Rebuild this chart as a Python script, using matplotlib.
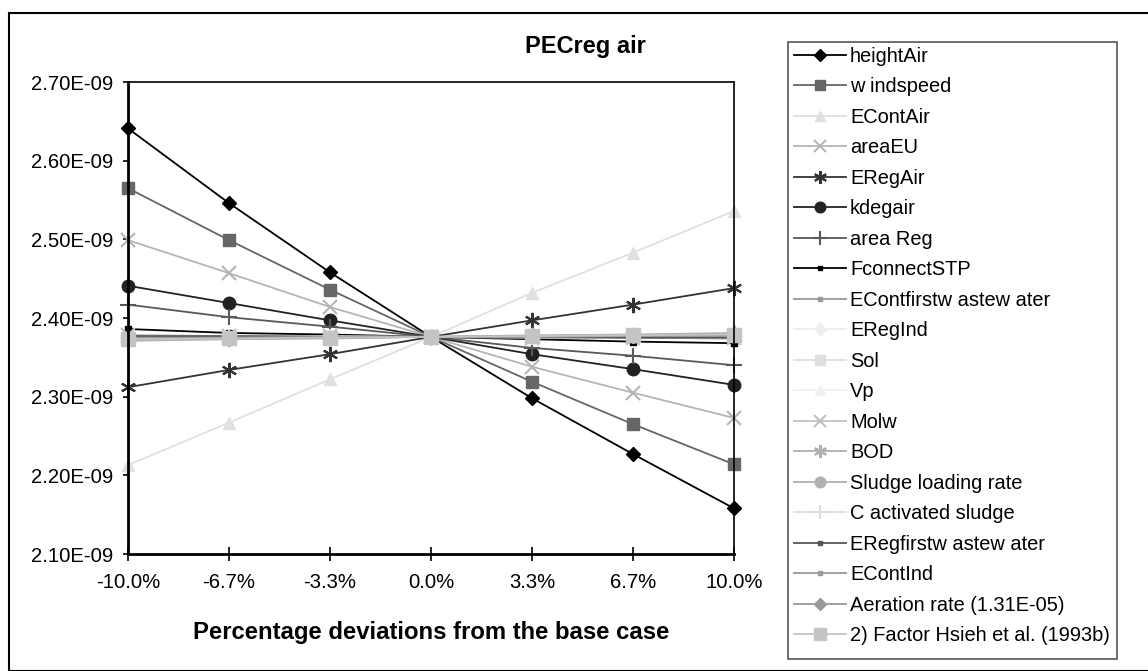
import matplotlib
matplotlib.use("Agg")
import matplotlib.pyplot as plt
from matplotlib.patches import Rectangle

plt.rcParams['font.family'] = ['Liberation Sans', 'DejaVu Sans']

x_labels = ["-10.0%", "-6.7%", "-3.3%", "0.0%", "3.3%", "6.7%", "10.0%"]

series_names = [
    "heightAir", "w indspeed", "EContAir", "areaEU", "ERegAir", "kdegair",
    "area Reg", "FconnectSTP", "EContfirstw astew ater", "ERegInd", "Sol",
    "Vp", "Molw", "BOD", "Sludge loading rate", "C activated sludge",
    "ERegfirstw astew ater", "EContInd", "Aeration rate (1.31E-05)",
    "2) Factor Hsieh et al. (1993b)",
]

# values in units of 1E-09
heightAir = [2.641, 2.546, 2.458, 2.376, 2.298, 2.227, 2.158]
windspeed = [2.565, 2.499, 2.436, 2.376, 2.319, 2.265, 2.214]
EContAir = [2.213, 2.267, 2.322, 2.376, 2.432, 2.483, 2.536]
areaEU = [2.499, 2.457, 2.414, 2.376, 2.338, 2.305, 2.273]
ERegAir = [2.312, 2.334, 2.354, 2.376, 2.397, 2.417, 2.438]
kdegair = [2.441, 2.419, 2.397, 2.376, 2.354, 2.335, 2.315]
areaReg = [2.417, 2.401, 2.389, 2.376, 2.362, 2.352, 2.340]
FconnectSTP = [2.386, 2.381, 2.379, 2.376, 2.373, 2.370, 2.368]
EContfirstwastewater = [2.378, 2.377, 2.377, 2.376, 2.375, 2.375, 2.374]
ERegInd = [2.374, 2.375, 2.375, 2.376, 2.376, 2.377, 2.378]
Sol = [2.372, 2.373, 2.375, 2.376, 2.377, 2.379, 2.380]
Vp = [2.374, 2.375, 2.375, 2.376, 2.377, 2.377, 2.378]
Molw = [2.378, 2.377, 2.377, 2.376, 2.375, 2.375, 2.374]
BOD = [2.371, 2.373, 2.374, 2.376, 2.378, 2.379, 2.381]
Sludge = [2.373, 2.374, 2.375, 2.376, 2.377, 2.378, 2.379]
Cact = [2.375, 2.375, 2.376, 2.376, 2.376, 2.377, 2.377]
ERegfirstwastewater = [2.377, 2.377, 2.376, 2.376, 2.376, 2.375, 2.375]
EContInd = [2.375, 2.375, 2.376, 2.376, 2.376, 2.377, 2.377]
Aeration = [2.374, 2.375, 2.375, 2.376, 2.377, 2.377, 2.378]
Hsieh = [2.373, 2.374, 2.375, 2.376, 2.377, 2.378, 2.379]

series_values = [heightAir, windspeed, EContAir, areaEU, ERegAir, kdegair,
                 areaReg, FconnectSTP, EContfirstwastewater, ERegInd, Sol, Vp,
                 Molw, BOD, Sludge, Cact, ERegfirstwastewater, EContInd,
                 Aeration, Hsieh]

AST = (6, 2, 0)
styles = [
    dict(color="#000000", marker="D", ms=7),
    dict(color="#666666", marker="s", ms=9),
    dict(color="#e0e0e0", marker="^", ms=9),
    dict(color="#b5b5b5", marker="x", ms=10, mew=1.5),
    dict(color="#333333", marker=AST, ms=11, mew=1.5),
    dict(color="#222222", marker="o", ms=9),
    dict(color="#595959", marker="+", ms=12, mew=1.5),
    dict(color="#000000", marker="s", ms=4),
    dict(color="#999999", marker="s", ms=4),
    dict(color="#eeeeee", marker="D", ms=7),
    dict(color="#dedede", marker="s", ms=9),
    dict(color="#f0f0f0", marker="^", ms=9),
    dict(color="#c0c0c0", marker="x", ms=10, mew=1.5),
    dict(color="#b0b0b0", marker=AST, ms=11, mew=1.5),
    dict(color="#b0b0b0", marker="o", ms=9),
    dict(color="#dddddd", marker="+", ms=12, mew=1.5),
    dict(color="#555555", marker="s", ms=4),
    dict(color="#999999", marker="s", ms=4),
    dict(color="#999999", marker="D", ms=7),
    dict(color="#c4c4c4", marker="s", ms=10),
]

W, H = 1148, 671
fig = plt.figure(figsize=(W / 100, H / 100), dpi=100)
fig.patches.append(Rectangle((9 / W, 0), 1.2, 1 - 13 / H, transform=fig.transFigure,
                             fill=False, edgecolor="#000000", linewidth=1.5, zorder=0))
# legend box
fig.patches.append(Rectangle((788 / W, 1 - 659 / H), (1117 - 788) / W, (659 - 42) / H,
                             transform=fig.transFigure, fill=False,
                             edgecolor="#555555", linewidth=1.2, zorder=0))

ax = fig.add_axes([128 / W, 1 - 554 / H, (734 - 128) / W, (554 - 82) / H])
xs = list(range(len(x_labels)))
handles = []
for name, vals, st in zip(series_names, series_values, styles):
    kw = dict(st)
    c = kw.pop("color")
    ms = kw.pop("ms")
    mew = kw.pop("mew", 1.0)
    ln, = ax.plot(xs, vals, color=c, marker=kw["marker"], markersize=ms,
                  markeredgewidth=mew, markerfacecolor=c, markeredgecolor=c,
                  linewidth=1.3, clip_on=False, label=name)
    handles.append(ln)

ax.set_xlim(0, 6)
ax.set_ylim(2.10, 2.70)
ax.set_xticks(xs)
ax.set_xticklabels(x_labels)
yt = [2.10, 2.20, 2.30, 2.40, 2.50, 2.60, 2.70]
ax.set_yticks(yt)
ax.set_yticklabels(["%.2fE-09" % v for v in yt])
ax.tick_params(axis="x", direction="inout", length=9.4, width=1.2, labelsize=14.6, pad=9)
ax.tick_params(axis="y", direction="out", length=3.8, width=1.2, labelsize=14.6, pad=7)
for s in ["left", "bottom"]:
    ax.spines[s].set_linewidth(2)
for s in ["top", "right"]:
    ax.spines[s].set_linewidth(1.2)

fig.text(585 / W, 1 - 47 / H, "PECreg air", ha="center", va="center",
         fontsize=17, fontweight="bold")
fig.text(431 / W, 1 - 633 / H, "Percentage deviations from the base case",
         ha="center", va="center", fontsize=17.2, fontweight="bold")

leg = fig.legend(handles=handles, loc="upper left",
                 bbox_to_anchor=(788 / W, 1 - 41 / H), frameon=False,
                 fontsize=14.4, labelspacing=0.574, handlelength=2.6, handletextpad=0.2,
                 borderpad=0.3, borderaxespad=0, markerscale=0.85)

fig.savefig("out.png", dpi=100)
